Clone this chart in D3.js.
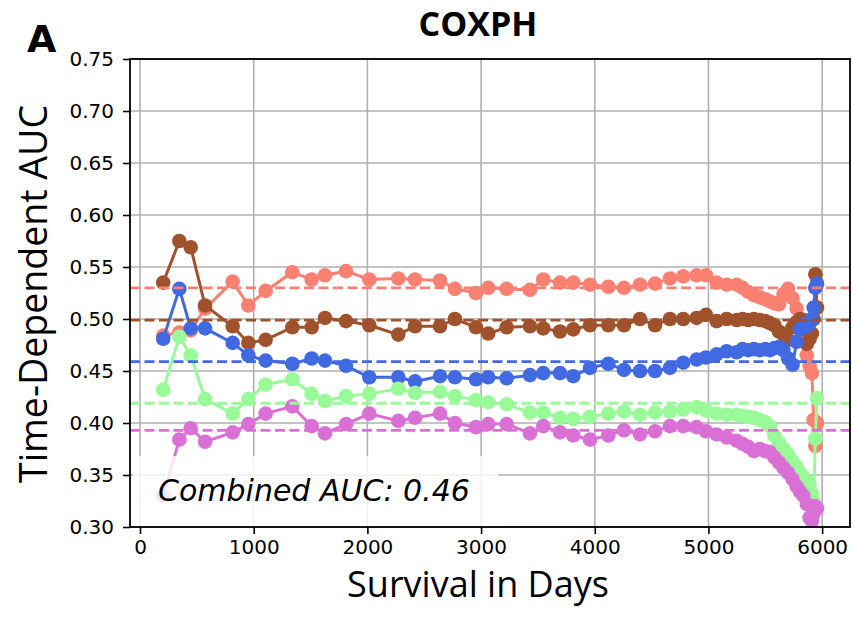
<!DOCTYPE html>
<html><head><meta charset="utf-8">
<script src="https://cdn.jsdelivr.net/npm/d3@7"></script>
<style>body{margin:0;background:#fff}svg{display:block}</style>
</head><body>
<svg id="chart" width="853" height="617"></svg>
<script>
const days = [204,346,446,572,815,953,1105,1340,1510,1627,1812,2017,2272,2419,2639,2770,2955,3063,3225,3430,3547,3694,3811,3958,4119,4257,4398,4530,4661,4778,4896,4978,5072,5160,5248,5300,5350,5400,5450,5500,5540,5580,5620,5660,5700,5740,5775,5805,5835,5865,5890,5910,5925,5940,5955];
const salmonAUC = [0.484,0.487,0.489,0.510,0.536,0.513,0.527,0.545,0.538,0.542,0.546,0.538,0.539,0.538,0.537,0.529,0.525,0.530,0.529,0.528,0.538,0.535,0.535,0.533,0.531,0.530,0.533,0.534,0.539,0.541,0.542,0.542,0.535,0.533,0.533,0.530,0.526,0.523,0.521,0.519,0.517,0.515,0.514,0.524,0.529,0.520,0.510,0.500,0.485,0.465,0.455,0.448,0.403,0.378,0.400];
const siennaAUC = [0.535,0.575,0.569,0.513,0.493,0.477,0.480,0.492,0.492,0.501,0.498,0.494,0.485,0.493,0.493,0.500,0.492,0.486,0.492,0.493,0.491,0.488,0.490,0.494,0.494,0.494,0.500,0.494,0.500,0.500,0.501,0.504,0.498,0.500,0.499,0.500,0.499,0.500,0.499,0.498,0.496,0.494,0.488,0.485,0.480,0.492,0.497,0.500,0.499,0.476,0.481,0.486,0.500,0.543,0.511];
const blueAUC = [0.481,0.529,0.491,0.491,0.477,0.465,0.460,0.457,0.462,0.460,0.455,0.444,0.444,0.440,0.445,0.444,0.442,0.444,0.443,0.446,0.448,0.448,0.445,0.453,0.457,0.451,0.450,0.450,0.453,0.458,0.461,0.463,0.466,0.469,0.468,0.471,0.470,0.471,0.470,0.471,0.470,0.472,0.473,0.470,0.462,0.456,0.478,0.490,0.495,0.493,0.496,0.500,0.511,0.530,0.534];
const greenAUC = [0.432,0.483,0.465,0.423,0.409,0.423,0.437,0.442,0.428,0.421,0.426,0.428,0.433,0.429,0.430,0.426,0.422,0.420,0.418,0.410,0.410,0.405,0.404,0.406,0.409,0.411,0.408,0.410,0.411,0.413,0.415,0.412,0.409,0.408,0.408,0.407,0.406,0.405,0.403,0.401,0.397,0.388,0.381,0.375,0.370,0.363,0.358,0.352,0.348,0.344,0.340,0.332,0.324,0.385,0.424];
const orchidAUC = [0.330,0.384,0.395,0.382,0.391,0.399,0.409,0.416,0.397,0.390,0.399,0.409,0.402,0.405,0.409,0.400,0.396,0.399,0.399,0.390,0.397,0.391,0.388,0.384,0.388,0.393,0.389,0.392,0.397,0.397,0.396,0.392,0.389,0.386,0.383,0.380,0.377,0.373,0.375,0.373,0.372,0.367,0.362,0.357,0.352,0.346,0.339,0.334,0.330,0.322,0.309,0.306,0.313,0.320,0.318];
const seriesColors = ["#FA8072","#A0522D","#4169E1","#98FB98","#DA70D6"];
const seriesMeans = [0.530,0.499,0.459,0.419,0.393];
const xTicks = [0,1000,2000,3000,4000,5000,6000];
const yTicks = [0.30,0.35,0.40,0.45,0.50,0.55,0.60,0.65,0.70,0.75];
const titleText = "COXPH";
const panelLabel = "A";
const xLabel = "Survival in Days";
const yLabel = "Time-Dependent AUC";
const combinedText = "Combined AUC: 0.46";

const allSeries = [salmonAUC, siennaAUC, blueAUC, greenAUC, orchidAUC];
const svg = d3.select("#chart");
const L = 130, R = 850, T = 59, B = 527;
const x = d3.scaleLinear().domain([-88, 6245]).range([L, R]);
const y = d3.scaleLinear().domain([0.30, 0.75]).range([B, T]);

// grid
const grid = svg.append("g");
grid.selectAll(".gx").data(xTicks).join("line")
  .attr("x1", d => x(d)).attr("x2", d => x(d)).attr("y1", T).attr("y2", B)
  .attr("stroke", "#b0b0b0").attr("stroke-width", 1.6);
grid.selectAll(".gy").data(yTicks).join("line")
  .attr("y1", d => y(d)).attr("y2", d => y(d)).attr("x1", L).attr("x2", R)
  .attr("stroke", "#b0b0b0").attr("stroke-width", 1.6);

svg.append("clipPath").attr("id", "clip").append("rect")
  .attr("x", L).attr("y", T).attr("width", R - L).attr("height", B - T);
const plot = svg.append("g").attr("clip-path", "url(#clip)");

const line = d3.line().x((d, i) => x(days[i])).y(d => y(d));
allSeries.forEach((vals, k) => {
  const g = plot.append("g");
  g.append("path").datum(vals).attr("d", line).attr("fill", "none")
    .attr("stroke", seriesColors[k]).attr("stroke-width", 3);
  g.selectAll("circle").data(vals).join("circle")
    .attr("cx", (d, i) => x(days[i])).attr("cy", d => y(d)).attr("r", 7.3)
    .attr("fill", seriesColors[k]);
});
seriesMeans.forEach((m, k) => {
  plot.append("line").attr("x1", L).attr("x2", R).attr("y1", y(m)).attr("y2", y(m))
    .attr("stroke", seriesColors[k]).attr("stroke-width", 2.8).attr("stroke-dasharray", "10,4.5");
});

// text box
plot.append("rect").attr("x", 133).attr("y", 456).attr("width", 365).attr("height", 80)
  .attr("fill", "#fff").attr("fill-opacity", 0.82);
svg.append("text").attr("x", 158).attr("y", 501).text(combinedText)
  .attr("font-family", "DejaVu Sans, sans-serif").attr("font-style", "italic")
  .attr("font-size", 30).attr("fill", "#000");

// axes
const xAxis = d3.axisBottom(x).tickValues(xTicks).tickSize(7).tickPadding(6).tickFormat(d3.format("d"));
const yAxis = d3.axisLeft(y).tickValues(yTicks).tickSize(7).tickPadding(9).tickFormat(d3.format(".2f"));
const gx = svg.append("g").attr("transform", `translate(0,${B})`).call(xAxis);
const gy = svg.append("g").attr("transform", `translate(${L},0)`).call(yAxis);
[gx, gy].forEach(g => {
  g.select(".domain").remove();
  g.selectAll(".tick line").attr("stroke", "#000").attr("stroke-width", 1.6);
  g.selectAll(".tick text").attr("font-family", "DejaVu Sans, sans-serif").attr("font-size", 20).attr("fill", "#000");
});
svg.append("rect").attr("x", L).attr("y", T).attr("width", R - L).attr("height", B - T)
  .attr("fill", "none").attr("stroke", "#000").attr("stroke-width", 1.8);

svg.append("text").attr("x", 478).attr("y", 36).attr("text-anchor", "middle").text(titleText)
  .attr("font-family", "Open Sans, sans-serif").attr("font-weight", "bold").attr("font-size", 34);
svg.append("text").attr("x", 27).attr("y", 52).text(panelLabel)
  .attr("font-family", "DejaVu Sans, sans-serif").attr("font-weight", "bold").attr("font-size", 38);
svg.append("text").attr("x", 478).attr("y", 597).attr("text-anchor", "middle").text(xLabel)
  .attr("font-family", "Open Sans, sans-serif").attr("font-size", 36);
svg.append("text").attr("transform", "translate(47,294) rotate(-90)").attr("text-anchor", "middle").text(yLabel)
  .attr("font-family", "Open Sans, sans-serif").attr("font-size", 37.5);
</script>
</body></html>
